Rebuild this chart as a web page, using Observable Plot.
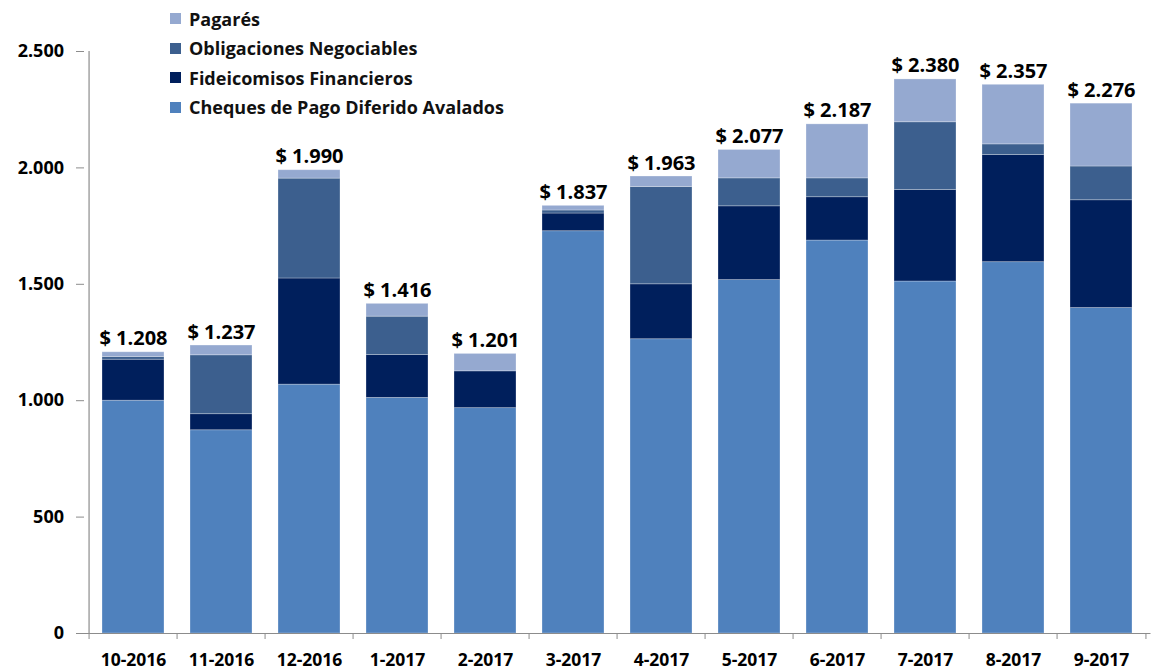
<!DOCTYPE html>
<html>
<head>
<meta charset="utf-8">
<script src="https://cdn.jsdelivr.net/npm/d3@7"></script>
<script src="https://cdn.jsdelivr.net/npm/@observablehq/plot@0.6"></script>
<style>
  html, body { margin: 0; padding: 0; background: #fff; }
  #wrap { position: relative; width: 1153px; height: 670px; }
  #legend { position: absolute; left: 170px; top: 4.2px; font-family: "Open Sans", sans-serif; font-weight: 700; font-size: 18px; color: #111; }
  .item { display: flex; align-items: center; height: 29.4px; white-space: nowrap; }
  .sw { width: 11px; height: 11px; margin-right: 8px; flex: none; }
</style>
</head>
<body>
<div id="wrap"><div id="legend"></div></div>
<script>
const months = ["10-2016","11-2016","12-2016","1-2017","2-2017","3-2017","4-2017","5-2017","6-2017","7-2017","8-2017","9-2017"];
const seriesNames = ["Cheques de Pago Diferido Avalados","Fideicomisos Financieros","Obligaciones Negociables","Pagarés"];
const cheques      = [1000, 873, 1069, 1012, 968, 1728, 1264, 1518, 1688, 1512, 1595, 1398];
const fideicomisos = [ 176,  69,  456,  184, 158,   76,  236,  317,  186,  393,  460,  463];
const obligaciones = [  12, 253,  429,  165,   0,   13,  418,  120,   81,  291,   46,  145];
const pagares      = [  20,  42,   36,   55,  75,   20,   45,  122,  232,  184,  256,  270];
const totals       = [1208, 1237, 1990, 1416, 1201, 1837, 1963, 2077, 2187, 2380, 2357, 2276];
const yTicks = [0, 500, 1000, 1500, 2000, 2500];
const colors = ["#4f81bd", "#001f5c", "#3c5f8e", "#95a9d0"];
const legendOrder = ["Pagarés","Obligaciones Negociables","Fideicomisos Financieros","Cheques de Pago Diferido Avalados"];

const seriesValues = [cheques, fideicomisos, obligaciones, pagares];
const rows = [];
months.forEach((m, i) => {
  seriesNames.forEach((s, j) => rows.push({month: m, series: s, value: seriesValues[j][i]}));
});
const totalRows = months.map((m, i) => ({month: m, total: totals[i]}));

const loc = d3.formatLocale({decimal: ",", thousands: ".", grouping: [3], currency: ["$", ""]});
const fmt = loc.format(",d");

const W = 1153, H = 670, ML = 84, MR = 2.5, MT = 51, MB = 37;
const step = (W - ML - MR) / months.length;
const font = "'Open Sans', sans-serif";
const axisGray = "#8c8c8c";

const chart = Plot.plot({
  width: W, height: H,
  marginLeft: ML, marginRight: MR, marginTop: MT, marginBottom: MB,
  style: {fontFamily: font, background: "#fff"},
  x: {domain: months, paddingInner: 0.3, paddingOuter: 0.15, label: null},
  y: {domain: [0, 2500], label: null},
  color: {domain: seriesNames, range: colors},
  marks: [
    Plot.barY(rows, {x: "month", y: "value", fill: "series", stroke: "#ffffff", strokeOpacity: 0.35, strokeWidth: 0.8}),
    Plot.ruleY([0], {stroke: axisGray, strokeWidth: 1.2}),
    Plot.ruleX([months[0]], {y1: 0, y2: 2500, dx: -step / 2, stroke: axisGray, strokeWidth: 1.2}),
    Plot.axisY({ticks: yTicks, tickFormat: fmt, tickSize: 8, tickPadding: 12.5, stroke: axisGray,
                fill: "#000", fontSize: 18, fontWeight: "bold", label: null}),
    Plot.axisX({tickSize: 6, text: null, dx: -step / 2, stroke: axisGray, label: null}),
    Plot.axisX({ticks: [months[months.length - 1]], tickSize: 6, text: null, dx: step / 2, stroke: axisGray, label: null}),
    Plot.axisX({tickSize: 0, tickPadding: 20, fill: "#000", fontSize: 17.5, fontWeight: "bold", label: null}),
    Plot.text(totalRows, {x: "month", y: "total", text: d => "$ " + fmt(d.total), lineAnchor: "bottom", dy: -7,
                          fontSize: 20, fontWeight: "bold", fill: "#000"})
  ]
});
const wrap = document.getElementById("wrap");
wrap.insertBefore(chart, wrap.firstChild);

const legend = document.getElementById("legend");
legendOrder.forEach(name => {
  const item = document.createElement("div");
  item.className = "item";
  const sw = document.createElement("span");
  sw.className = "sw";
  sw.style.background = colors[seriesNames.indexOf(name)];
  const label = document.createElement("span");
  label.textContent = name;
  item.appendChild(sw);
  item.appendChild(label);
  legend.appendChild(item);
});
</script>
</body>
</html>
